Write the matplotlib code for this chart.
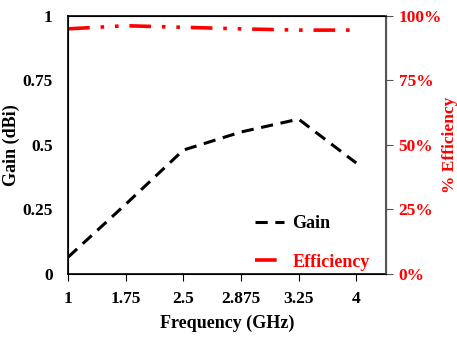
import matplotlib.pyplot as plt
from matplotlib.ticker import PercentFormatter

freq_labels = ["1", "1.75", "2.5", "2.875", "3.25", "4"]
gain = [0.065, 0.27, 0.48, 0.55, 0.60, 0.43]
efficiency = [95.0, 96.2, 95.6, 95.0, 94.5, 94.5]

plt.rcParams["font.family"] = ["Liberation Serif", "DejaVu Serif"]
plt.rcParams["font.weight"] = "bold"

fig = plt.figure(figsize=(4.57, 3.39), dpi=100)
ax = fig.add_axes([0.149, 0.192, 0.696, 0.761])
ax2 = ax.twinx()

x = list(range(len(freq_labels)))
l1, = ax.plot(x, gain, color="black", linestyle=(0, (4, 2.5)), linewidth=2.2, label="Gain")
l2, = ax2.plot(x, efficiency, color="red", linestyle=(0, (6, 3, 1, 3, 1, 3)), linewidth=2.6, label="Efficiency")

ax.set_xlim(0, 5.52)
ax.set_ylim(0, 1)
ax2.set_ylim(0, 100)
ax.set_xticks(x)
ax.set_xticklabels(freq_labels)
ax.set_yticks([0, 0.25, 0.5, 0.75, 1])
ax.set_yticklabels(["0", "0.25", "0.5", "0.75", "1"])
ax2.set_yticks([0, 25, 50, 75, 100])
ax2.yaxis.set_major_formatter(PercentFormatter(decimals=0))

fs = 12.5
ax.tick_params(axis="y", length=0, labelsize=fs, pad=11)
ax.tick_params(axis="x", length=5, direction="out", labelsize=fs, pad=7)
ax2.tick_params(axis="y", length=5, direction="out", labelsize=fs, labelcolor="red", color="#555555", pad=4)
for lab in ax.get_xticklabels() + ax.get_yticklabels() + ax2.get_yticklabels():
    lab.set_fontweight("bold")

ax2.spines["right"].set_color("#555555")
ax2.spines["right"].set_linewidth(1.5)
for s in ["left", "bottom", "top"]:
    ax.spines[s].set_linewidth(1.2)

ax.set_xlabel("Frequency (GHz)", fontsize=13, fontweight="bold", labelpad=6)
ax.set_ylabel("Gain (dBi)", fontsize=13, fontweight="bold", labelpad=2)
ax2.set_ylabel("% Efficiency", fontsize=12.5, fontweight="bold", color="red", labelpad=0)

leg = ax.legend(handles=[l1, l2], loc="lower right", bbox_to_anchor=(1.0, -0.05),
                frameon=False, fontsize=13, handlelength=1.6, handletextpad=0.5,
                labelspacing=1.2)
for t, c in zip(leg.get_texts(), ["black", "red"]):
    t.set_color(c)
    t.set_fontweight("bold")

fig.savefig("out.png", dpi=100)
plt.close(fig)
